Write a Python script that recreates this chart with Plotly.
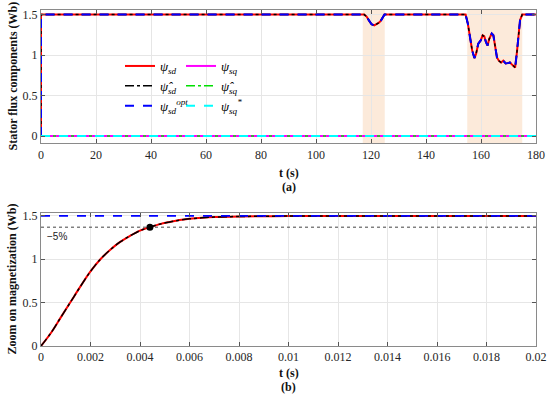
import plotly.graph_objects as go

# ---------------- data ----------------
# Panel (a): stator flux d-component over the full run (s, Wb)
t_a = [0, 0.01, 117.5, 118.4, 119.3, 120.2, 121.2, 122.1, 122.9, 123.6, 124.3, 124.9,
       154.4, 155.2, 156.0, 156.8, 157.6, 158.2, 159.0, 159.9, 160.6, 161.2, 161.8,
       162.4, 163.0, 163.9, 164.5, 165.1, 165.8, 166.5, 167.3, 168.1, 169.0, 169.7,
       170.5, 171.1, 171.9, 172.4, 173.0, 173.6, 174.2, 175.0, 180]
psi_sd_a = [0, 1.5, 1.5, 1.475, 1.425, 1.38, 1.366, 1.38, 1.40, 1.425, 1.475, 1.5,
            1.5, 1.39, 1.223, 1.055, 0.963, 1.014, 1.14, 1.18, 1.244, 1.23, 1.16,
            1.118, 1.2, 1.265, 1.244, 1.097, 0.97, 0.93, 0.908, 0.93, 0.896, 0.9,
            0.908, 0.888, 0.854, 0.845, 1.014, 1.265, 1.43, 1.5, 1.5]
psi_sd_opt_a = psi_sd_a
t_q = [0, 180]
psi_sq_a = [0, 0]

# Shaded intervals (s)
shade_start = [117, 155]
shade_end = [125, 175]

# Panel (b): zoom on magnetization
t_b = [0, 0.0004, 0.0008, 0.0012, 0.0016, 0.002, 0.0024, 0.0028, 0.0032, 0.0036,
       0.004, 0.0044, 0.0048, 0.0052, 0.0056, 0.006, 0.0065, 0.007, 0.008, 0.009,
       0.01, 0.012, 0.015, 0.02]
psi_sd_b = [0, 0.15, 0.33, 0.51, 0.69, 0.86, 1.0, 1.11, 1.2, 1.27,
            1.33, 1.37, 1.405, 1.43, 1.452, 1.466, 1.478, 1.486, 1.493, 1.496,
            1.498, 1.499, 1.5, 1.5]
t_ref_b = [0, 0.02]
psi_opt_b = [1.5, 1.5]
psi_5pct_b = [1.37, 1.37]
dot_t = [0.0044]
dot_v = [1.37]

xa_ticks = [0, 20, 40, 60, 80, 100, 120, 140, 160, 180]
y_ticks = [0, 0.5, 1, 1.5]
y_ticktext = ["0", "0.5", "1", "1.5"]
xb_ticks = [0, 0.002, 0.004, 0.006, 0.008, 0.01, 0.012, 0.014, 0.016, 0.018, 0.02]
xb_ticktext = ["0", "0.002", "0.004", "0.006", "0.008", "0.01", "0.012", "0.014",
               "0.016", "0.018", "0.02"]

# ---------------- figure ----------------
W, H = 550, 397
SERIF = "'Liberation Serif', 'Times New Roman', Times, 'DejaVu Serif', serif"
fig = go.Figure()

def lab(s):
    return "<i>" + s + "</i>"

# Panel (a) traces
fig.add_trace(go.Scatter(x=t_a, y=psi_sd_a, mode="lines", line=dict(color="#ff0000", width=2),
                         name=lab("ψ<sub>sd</sub>"), legend="legend", xaxis="x", yaxis="y"))
fig.add_trace(go.Scatter(x=t_a, y=psi_sd_a, mode="lines",
                         line=dict(color="#000000", width=1.5, dash="dashdot"),
                         name=lab("ψ̂<sub>sd</sub>"), legend="legend", xaxis="x", yaxis="y"))
fig.add_trace(go.Scatter(x=t_a, y=psi_sd_opt_a, mode="lines",
                         line=dict(color="#0000ff", width=2, dash="dash"),
                         name=lab("ψ<sub>sd</sub><sup>opt</sup>"), legend="legend", xaxis="x", yaxis="y"))
fig.add_trace(go.Scatter(x=t_q, y=psi_sq_a, mode="lines", line=dict(color="#ff00ff", width=2),
                         name=lab("ψ<sub>sq</sub>"), legend="legend2", xaxis="x", yaxis="y"))
fig.add_trace(go.Scatter(x=t_q, y=psi_sq_a, mode="lines",
                         line=dict(color="#00e000", width=1.5, dash="dashdot"),
                         name=lab("ψ̂<sub>sq</sub>"), legend="legend2", xaxis="x", yaxis="y"))
fig.add_trace(go.Scatter(x=t_q, y=psi_sq_a, mode="lines",
                         line=dict(color="#00ffff", width=2, dash="dash"),
                         name=lab("ψ<sub>sq</sub><sup>*</sup>"), legend="legend2", xaxis="x", yaxis="y"))

# Panel (b) traces
fig.add_trace(go.Scatter(x=t_ref_b, y=psi_5pct_b, mode="lines",
                         line=dict(color="#444444", width=1, dash="dot"),
                         showlegend=False, xaxis="x2", yaxis="y2"))
fig.add_trace(go.Scatter(x=t_b, y=psi_sd_b, mode="lines", line=dict(color="#ff0000", width=2, shape="spline"),
                         showlegend=False, xaxis="x2", yaxis="y2"))
fig.add_trace(go.Scatter(x=t_b, y=psi_sd_b, mode="lines",
                         line=dict(color="#000000", width=1.5, dash="dashdot", shape="spline"),
                         showlegend=False, xaxis="x2", yaxis="y2"))
fig.add_trace(go.Scatter(x=t_ref_b, y=psi_opt_b, mode="lines",
                         line=dict(color="#0000ff", width=1.8, dash="dash"),
                         showlegend=False, xaxis="x2", yaxis="y2"))
fig.add_trace(go.Scatter(x=dot_t, y=dot_v, mode="markers",
                         marker=dict(color="#000000", size=7),
                         showlegend=False, xaxis="x2", yaxis="y2"))

# shaded regions
shapes = []
for s, e in zip(shade_start, shade_end):
    shapes.append(dict(type="rect", xref="x", yref="y domain", x0=s, x1=e, y0=0, y1=1,
                       fillcolor="rgb(252,234,218)", line=dict(width=0), layer="below"))

xd = [41 / W, 536 / W]
ya_dom = [1 - 143.3 / H, 1 - 9.7 / H]
yb_dom = [1 - 346 / H, 1 - 213.3 / H]

axis_common = dict(showline=True, linecolor="#8a8a8a", linewidth=1, mirror="ticks",
                   ticks="inside", ticklen=4, tickcolor="#555555", automargin=False,
                   showgrid=True, gridcolor="#e6e6e6", gridwidth=1, zeroline=False,
                   tickfont=dict(family=SERIF, size=12, color="#262626"))

fig.update_layout(
    width=W, height=H,
    margin=dict(l=0, r=0, t=0, b=0, autoexpand=False),
    paper_bgcolor="white", plot_bgcolor="white",
    shapes=shapes,
    xaxis=dict(domain=xd, range=[0, 180], tickvals=xa_ticks, anchor="y", **axis_common),
    yaxis=dict(domain=ya_dom, range=[-0.09, 1.56], tickvals=y_ticks, ticktext=y_ticktext,
               anchor="x", **axis_common),
    xaxis2=dict(domain=xd, range=[0, 0.02], tickvals=xb_ticks, ticktext=xb_ticktext,
                anchor="y2", **axis_common),
    yaxis2=dict(domain=yb_dom, range=[0, 1.53], tickvals=y_ticks, ticktext=y_ticktext,
                anchor="x2", **axis_common),
    legend=dict(x=120 / W, y=1 - 51 / H, xanchor="left", yanchor="top",
                bgcolor="rgba(0,0,0,0)", tracegroupgap=0,
                font=dict(family=SERIF, size=13, color="#000000")),
    legend2=dict(x=181 / W, y=1 - 51 / H, xanchor="left", yanchor="top",
                 bgcolor="rgba(0,0,0,0)", tracegroupgap=0,
                 font=dict(family=SERIF, size=13, color="#000000")),
)

title_font = dict(family=SERIF, size=12, color="#111111")
ann = [
    dict(text="<b>Stator flux components (Wb)</b>", x=12 / W, y=1 - 76.5 / H, textangle=-90),
    dict(text="<b>t (s)</b>", x=(41 + 536) / 2 / W, y=1 - 173 / H),
    dict(text="<b>(a)</b>", x=(41 + 536) / 2 / W, y=1 - 187 / H),
    dict(text="<b>Zoom on magnetization (Wb)</b>", x=12 / W, y=1 - 279.6 / H, textangle=-90),
    dict(text="<b>t (s)</b>", x=(41 + 536) / 2 / W, y=1 - 373 / H),
    dict(text="<b>(b)</b>", x=(41 + 536) / 2 / W, y=1 - 387 / H),
]
for a in ann:
    fig.add_annotation(xref="paper", yref="paper", showarrow=False, xanchor="center",
                       yanchor="middle", font=title_font, **a)

fig.add_annotation(xref="x2", yref="y2", x=0.00015, y=1.26, text="−5%", showarrow=False,
                   xanchor="left", yanchor="middle",
                   font=dict(family="Liberation Sans, Arial, sans-serif", size=10, color="#222222"))

fig.write_html("out.html", config={"displayModeBar": False},
               post_script="document.body.style.margin='0px';")
